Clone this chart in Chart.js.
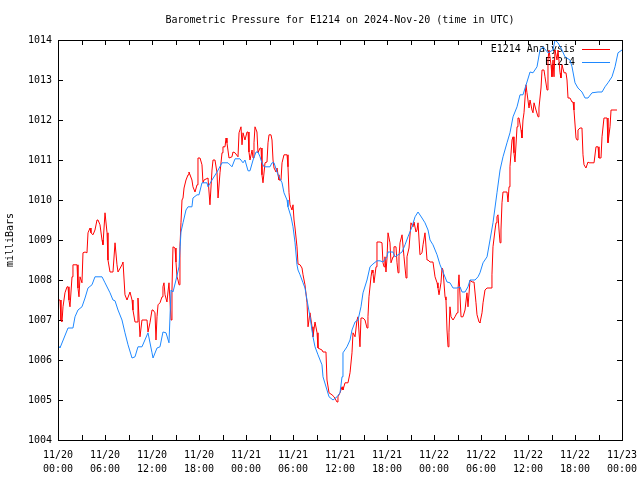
<!DOCTYPE html>
<html>
<head>
<meta charset="utf-8">
<script src="https://cdn.jsdelivr.net/npm/chart.js@4.4.1/dist/chart.umd.min.js"></script>
<style>
  html, body { margin: 0; padding: 0; background: #fff; }
  #wrap { width: 640px; height: 480px; }
</style>
</head>
<body>
<div id="wrap"><canvas id="myChart" width="640" height="480"></canvas></div>
<script>
var titleText = "Barometric Pressure for E1214 on 2024-Nov-20 (time in UTC)";
var yTitle = "milliBars";
var seriesNames = ["E1214 Analysis", "E1214"];
var seriesColors = ["#ff0000", "#1e88ff"];

// x axis: hours since 11/20 00:00 UTC, labelled every 6 h
var tickDays = ["11/20", "11/20", "11/20", "11/20", "11/21", "11/21", "11/21",
                "11/21", "11/22", "11/22", "11/22", "11/22", "11/23"];
var tickTimes = ["00:00", "06:00", "12:00", "18:00", "00:00", "06:00", "12:00",
                 "18:00", "00:00", "06:00", "12:00", "18:00", "00:00"];

// red: E1214 Analysis
var analysisHours = [
  0.00, 0.26, 0.38, 0.51, 0.64, 0.89, 1.15, 1.28, 1.40, 1.53,
  1.79, 1.91, 2.43, 2.55, 2.68, 2.81, 3.06, 3.19, 3.45, 3.70,
  3.83, 4.09, 4.21, 4.47, 4.72, 4.98, 5.11, 5.36, 5.62, 5.74,
  6.00, 6.26, 6.38, 6.64, 7.02, 7.28, 7.53, 7.66, 8.17, 8.30,
  8.55, 8.81, 9.19, 9.45, 9.57, 9.83, 10.09, 10.21, 10.47, 10.72,
  11.36, 11.49, 11.74, 12.00, 12.13, 12.38, 12.51, 12.64, 12.77, 13.02,
  13.28, 13.40, 13.53, 13.66, 13.91, 14.04, 14.17, 14.43, 14.55, 14.68,
  14.94, 15.06, 15.19, 15.32, 15.45, 15.57, 15.70, 15.83, 15.96, 16.09,
  16.34, 16.60, 16.72, 17.10, 17.23, 17.49, 17.75, 17.87, 18.13, 18.38,
  18.51, 18.64, 19.15, 19.40, 19.66, 19.79, 20.04, 20.30, 20.43, 20.68,
  20.94, 21.06, 21.32, 21.45, 21.57, 21.83, 22.21, 22.34, 22.60, 22.98,
  23.11, 23.36, 23.49, 23.62, 23.87, 24.13, 24.26, 24.38, 24.51, 24.77,
  24.90, 25.02, 25.15, 25.40, 25.53, 25.79, 25.92, 26.04, 26.17, 26.43,
  26.68, 26.81, 26.94, 27.19, 27.32, 27.45, 27.58, 27.83, 27.96, 28.09,
  28.21, 28.47, 28.60, 28.85, 29.24, 29.36, 29.49, 29.62, 29.87, 30.00,
  30.13, 30.26, 30.51, 30.64, 30.90, 31.15, 31.28, 31.53, 31.79, 31.92,
  32.17, 32.43, 32.55, 32.81, 33.07, 33.19, 33.70, 33.83, 34.21, 34.34,
  34.60, 34.98, 35.24, 35.62, 35.74, 36.00, 36.26, 36.38, 36.64, 37.02,
  37.28, 37.53, 37.66, 37.92, 38.17, 38.30, 38.55, 38.68, 38.94, 39.19,
  39.45, 39.57, 39.70, 39.96, 40.09, 40.21, 40.34, 40.60, 40.72, 41.11,
  41.36, 41.49, 41.62, 41.74, 41.87, 42.00, 42.13, 42.38, 42.51, 42.77,
  42.89, 43.15, 43.28, 43.41, 43.53, 43.66, 43.92, 44.04, 44.17, 44.43,
  44.55, 44.81, 45.06, 45.32, 45.45, 45.70, 45.83, 45.96, 46.21, 46.47,
  46.60, 46.85, 47.11, 47.24, 47.49, 47.87, 48.13, 48.39, 48.51, 48.64,
  48.89, 49.02, 49.15, 49.41, 49.53, 49.66, 49.79, 49.91, 50.04, 50.17,
  50.43, 50.68, 50.94, 51.06, 51.19, 51.45, 51.70, 51.96, 52.21, 52.34,
  52.60, 52.85, 53.11, 53.36, 53.49, 53.75, 53.87, 54.13, 54.26, 54.51,
  54.77, 55.28, 55.40, 55.53, 55.79, 55.92, 56.04, 56.17, 56.30, 56.43,
  56.55, 56.68, 56.81, 57.32, 57.45, 57.58, 57.70, 57.96, 58.09, 58.21,
  58.34, 58.60, 58.72, 58.85, 59.11, 59.23, 59.36, 59.49, 59.74, 59.87,
  60.13, 60.26, 60.51, 60.64, 60.77, 61.02, 61.28, 61.40, 61.66, 61.79,
  62.04, 62.17, 62.43, 62.55, 62.68, 62.94, 63.06, 63.19, 63.32, 63.45,
  63.70, 63.83, 64.09, 64.21, 64.34, 64.60, 64.85, 64.98, 65.11, 65.36,
  65.62, 65.75, 65.87, 66.13, 66.26, 66.38, 66.64, 66.89, 67.02, 67.15,
  67.40, 67.66, 67.79, 68.43, 68.68, 68.94, 69.06, 69.32, 69.45, 69.70,
  70.09, 70.21, 70.47, 70.60, 71.36
];
var analysisValues = [
  1007.50, 1007.50, 1007.00, 1006.95, 1007.33, 1007.68, 1007.83, 1007.83, 1007.50, 1007.33,
  1008.08, 1008.38, 1008.38, 1007.80, 1007.58, 1008.08, 1007.93, 1008.68, 1008.70, 1008.68,
  1009.18, 1009.30, 1009.18, 1009.13, 1009.25, 1009.50, 1009.50, 1009.38, 1009.00, 1008.88,
  1009.68, 1009.18, 1008.50, 1008.20, 1008.20, 1008.93, 1008.38, 1008.20, 1008.38, 1008.45,
  1007.63, 1007.50, 1007.70, 1007.50, 1007.25, 1006.95, 1006.95, 1007.55, 1006.58, 1007.00,
  1007.00, 1006.70, 1006.93, 1007.25, 1007.25, 1007.18, 1006.50, 1007.08, 1007.38, 1007.43,
  1007.58, 1007.83, 1007.93, 1007.63, 1007.45, 1007.70, 1007.93, 1007.00, 1007.75, 1008.83,
  1008.80, 1008.45, 1008.08, 1008.00, 1007.88, 1008.83, 1009.43, 1010.00, 1010.05, 1010.30,
  1010.50, 1010.63, 1010.70, 1010.50, 1010.33, 1010.20, 1010.38, 1011.05, 1011.05, 1010.88,
  1010.43, 1010.50, 1010.55, 1009.88, 1010.75, 1011.00, 1011.00, 1010.68, 1010.05, 1010.68,
  1011.18, 1011.33, 1011.33, 1011.55, 1011.43, 1011.05, 1011.08, 1011.20, 1011.18, 1011.08,
  1011.68, 1011.83, 1011.38, 1011.68, 1011.50, 1011.70, 1011.70, 1011.20, 1011.00, 1011.25,
  1011.05, 1011.43, 1011.83, 1011.70, 1011.18, 1011.30, 1011.30, 1010.63, 1010.43, 1010.93,
  1010.95, 1011.43, 1011.63, 1011.63, 1011.50, 1011.00, 1010.80, 1010.70, 1010.80, 1010.63,
  1010.50, 1010.50, 1010.93, 1011.13, 1011.13, 1010.83, 1010.18, 1009.88, 1009.75, 1009.88,
  1009.50, 1009.30, 1008.83, 1008.40, 1008.38, 1008.30, 1008.13, 1007.88, 1007.43, 1006.83,
  1007.18, 1006.83, 1006.58, 1006.95, 1006.68, 1006.30, 1006.25, 1006.20, 1006.20, 1005.50,
  1005.18, 1005.13, 1005.08, 1004.95, 1005.08, 1005.18, 1005.33, 1005.25, 1005.43, 1005.43,
  1005.68, 1006.18, 1006.68, 1006.58, 1007.00, 1007.08, 1006.33, 1007.05, 1007.05, 1007.00,
  1006.80, 1007.08, 1007.58, 1008.08, 1008.25, 1008.18, 1007.93, 1008.33, 1008.95, 1008.95,
  1008.93, 1008.43, 1008.33, 1008.58, 1008.20, 1008.55, 1009.18, 1008.93, 1008.43, 1008.58,
  1008.83, 1008.83, 1008.43, 1008.18, 1008.58, 1008.93, 1009.13, 1009.13, 1008.58, 1008.05,
  1008.58, 1008.80, 1009.43, 1009.33, 1009.45, 1009.20, 1009.25, 1009.43, 1008.63, 1008.68,
  1008.88, 1009.18, 1008.50, 1008.50, 1008.45, 1008.45, 1008.08, 1007.93, 1007.80, 1007.63,
  1007.93, 1008.30, 1008.25, 1007.58, 1007.50, 1006.75, 1006.33, 1006.68, 1007.33, 1007.08,
  1007.00, 1007.08, 1007.18, 1007.75, 1008.13, 1007.08, 1007.08, 1007.25, 1007.68, 1007.33,
  1008.00, 1007.95, 1007.95, 1007.43, 1007.13, 1006.95, 1006.93, 1007.18, 1007.43, 1007.75,
  1007.80, 1007.80, 1008.13, 1008.83, 1009.25, 1009.43, 1009.58, 1009.63, 1009.25, 1008.93,
  1009.25, 1009.93, 1010.20, 1010.20, 1009.95, 1010.33, 1010.83, 1011.50, 1011.58, 1011.18,
  1010.95, 1011.83, 1012.05, 1012.05, 1011.75, 1011.55, 1012.00, 1012.18, 1012.88, 1012.68,
  1012.30, 1012.50, 1012.25, 1012.18, 1012.43, 1012.25, 1012.08, 1012.30, 1012.80, 1013.25,
  1013.25, 1013.08, 1012.75, 1013.50, 1013.75, 1013.38, 1013.08, 1013.50, 1013.08, 1013.75,
  1013.50, 1013.75, 1013.18, 1013.05, 1013.38, 1013.18, 1013.18, 1013.00, 1012.55, 1012.55,
  1012.45, 1012.45, 1012.25, 1011.55, 1011.50, 1011.75, 1011.80, 1011.80, 1011.13, 1010.88,
  1010.80, 1010.95, 1010.93, 1010.93, 1011.33, 1011.33, 1011.05, 1011.05, 1011.58, 1012.05,
  1012.05, 1011.43, 1011.83, 1012.25, 1012.25
];

// blue: E1214 observed
var obsHours = [
  0.00, 0.25, 1.28, 1.91, 2.17, 2.55, 3.06, 3.45, 3.83, 4.34,
  4.72, 5.62, 6.00, 6.64, 7.02, 7.28, 7.66, 8.17, 8.55, 8.94,
  9.45, 9.83, 10.21, 10.72, 11.49, 12.00, 12.13, 12.64, 13.02, 13.40,
  13.79, 14.17, 14.43, 14.68, 15.06, 15.45, 15.70, 15.96, 16.34, 16.60,
  17.10, 17.23, 17.75, 18.00, 18.38, 19.02, 19.15, 19.66, 20.30, 20.94,
  21.70, 22.21, 22.60, 23.23, 23.62, 23.87, 24.26, 24.51, 24.90, 25.28,
  25.53, 25.79, 26.04, 26.30, 27.06, 27.32, 27.58, 27.96, 28.09, 28.60,
  28.85, 29.24, 29.36, 29.75, 30.00, 30.26, 30.51, 30.64, 30.90, 31.28,
  31.53, 31.79, 32.17, 32.55, 32.81, 33.19, 33.70, 33.83, 34.34, 34.60,
  35.11, 35.62, 36.00, 36.26, 36.38, 36.89, 37.28, 37.53, 37.92, 38.30,
  38.68, 38.94, 39.45, 39.83, 40.21, 40.72, 41.11, 41.49, 42.00, 42.13,
  42.77, 43.02, 43.41, 43.92, 44.30, 44.68, 45.19, 45.58, 45.96, 46.47,
  46.85, 47.24, 47.49, 47.87, 48.39, 48.77, 49.15, 49.66, 50.04, 50.43,
  50.94, 51.32, 51.58, 51.96, 52.34, 52.60, 53.24, 53.62, 53.87, 54.26,
  54.77, 55.15, 55.53, 56.04, 56.43, 56.81, 57.32, 57.70, 58.09, 58.60,
  58.98, 59.36, 59.87, 60.26, 60.64, 61.15, 61.53, 61.92, 62.55, 63.19,
  63.45, 63.83, 64.34, 64.72, 65.36, 65.62, 66.00, 66.38, 66.89, 67.28,
  67.66, 68.17, 68.94, 69.45, 69.83, 70.21, 70.72, 71.11, 71.49, 72.00
];
var obsValues = [
  1006.38, 1006.30, 1006.80, 1006.80, 1007.08, 1007.25, 1007.33, 1007.55, 1007.80, 1007.88,
  1008.08, 1008.08, 1007.93, 1007.68, 1007.50, 1007.48, 1007.25, 1007.00, 1006.68, 1006.38,
  1006.05, 1006.08, 1006.33, 1006.33, 1006.68, 1006.18, 1006.05, 1006.30, 1006.33, 1006.70,
  1006.68, 1006.43, 1007.75, 1007.70, 1008.00, 1008.33, 1009.20, 1009.43, 1009.75, 1009.83,
  1009.83, 1010.05, 1010.13, 1010.13, 1010.43, 1010.43, 1010.33, 1010.50, 1010.70, 1010.93,
  1010.93, 1010.83, 1011.03, 1011.03, 1010.93, 1011.00, 1010.73, 1010.73, 1011.00, 1011.20,
  1011.20, 1011.08, 1010.93, 1010.83, 1010.83, 1010.93, 1010.93, 1010.70, 1010.63, 1010.43,
  1010.18, 1010.00, 1009.83, 1009.58, 1009.33, 1008.93, 1008.38, 1008.25, 1008.13, 1007.93,
  1007.80, 1007.50, 1007.08, 1006.58, 1006.33, 1006.13, 1005.88, 1005.58, 1005.25, 1005.08,
  1005.00, 1005.08, 1005.18, 1005.58, 1006.18, 1006.33, 1006.50, 1006.75, 1006.95, 1007.00,
  1007.33, 1007.68, 1008.00, 1008.33, 1008.40, 1008.48, 1008.48, 1008.45, 1008.58, 1008.70,
  1008.70, 1008.58, 1008.63, 1008.70, 1008.88, 1009.08, 1009.33, 1009.58, 1009.70, 1009.55,
  1009.43, 1009.25, 1009.00, 1008.88, 1008.63, 1008.38, 1008.20, 1007.95, 1007.93, 1007.80,
  1007.80, 1007.83, 1007.70, 1007.70, 1007.83, 1008.00, 1008.00, 1008.08, 1008.18, 1008.43,
  1008.58, 1009.00, 1009.43, 1010.18, 1010.75, 1011.08, 1011.43, 1011.68, 1012.08, 1012.33,
  1012.63, 1012.63, 1012.95, 1013.20, 1013.18, 1013.33, 1013.75, 1013.83, 1013.68, 1013.75,
  1014.00, 1013.93, 1013.75, 1013.58, 1013.50, 1013.33, 1012.93, 1012.80, 1012.70, 1012.55,
  1012.55, 1012.68, 1012.70, 1012.70, 1012.83, 1012.93, 1013.08, 1013.33, 1013.68, 1013.75
];

var fontFamily = '"DejaVu Sans Mono", "Liberation Mono", monospace';

function toPoints(xs, ys) {
    var pts = [];
    for (var i = 0; i < xs.length; i++) {
        pts.push({ x: xs[i], y: ys[i] });
    }
    return pts;
}

// gnuplot style frame, inward ticks, key and titles
var framePlugin = {
    id: "frame",
    beforeDatasetsDraw: function (chart) {
        var ctx = chart.ctx;
        var a = chart.chartArea;
        var xs = chart.scales.x;
        var ys = chart.scales.y;
        ctx.save();
        ctx.strokeStyle = "#000";
        ctx.lineWidth = 1;
        ctx.beginPath();
        for (var h = xs.min; h <= xs.max; h += 3) {
            var px = Math.round(xs.getPixelForValue(h)) + 0.5;
            ctx.moveTo(px, a.bottom);
            ctx.lineTo(px, a.bottom - 5);
            ctx.moveTo(px, a.top);
            ctx.lineTo(px, a.top + 5);
        }
        for (var p = ys.min; p <= ys.max; p += 1) {
            var py = Math.round(ys.getPixelForValue(p)) + 0.5;
            ctx.moveTo(a.left, py);
            ctx.lineTo(a.left + 5, py);
            ctx.moveTo(a.right, py);
            ctx.lineTo(a.right - 5, py);
        }
        ctx.stroke();

        // key
        ctx.font = "10px " + fontFamily;
        ctx.fillStyle = "#000";
        ctx.textAlign = "right";
        ctx.textBaseline = "middle";
        for (var i = 0; i < seriesNames.length; i++) {
            var ky = 49.5 + i * 13;
            ctx.fillText(seriesNames[i], 575, ky);
            ctx.strokeStyle = seriesColors[i];
            ctx.beginPath();
            ctx.moveTo(582, ky);
            ctx.lineTo(610, ky);
            ctx.stroke();
        }
        ctx.restore();
    },
    afterDraw: function (chart) {
        var ctx = chart.ctx;
        var a = chart.chartArea;
        ctx.save();
        ctx.strokeStyle = "#000";
        ctx.lineWidth = 1;
        ctx.strokeRect(a.left + 0.5, a.top + 0.5, a.right - a.left, a.bottom - a.top);

        ctx.font = "10px " + fontFamily;
        ctx.fillStyle = "#000";
        ctx.textAlign = "center";
        ctx.textBaseline = "middle";
        ctx.fillText(titleText, (a.left + a.right) / 2, 20);

        ctx.translate(10, (a.top + a.bottom) / 2);
        ctx.rotate(-Math.PI / 2);
        ctx.fillText(yTitle, 0, 0);
        ctx.restore();
    }
};

new Chart("myChart", {
    type: "line",
    data: {
        datasets: [{
            label: seriesNames[1],
            data: toPoints(obsHours, obsValues),
            borderColor: seriesColors[1],
            borderWidth: 1,
            pointRadius: 0,
            tension: 0,
            order: 0
        }, {
            label: seriesNames[0],
            data: toPoints(analysisHours, analysisValues),
            borderColor: seriesColors[0],
            borderWidth: 1,
            pointRadius: 0,
            tension: 0,
            order: 1
        }]
    },
    options: {
        responsive: false,
        animation: false,
        devicePixelRatio: 1,
        layout: { padding: { top: 40, right: 18, left: 0, bottom: 0 } },
        plugins: {
            legend: { display: false },
            title: { display: false },
            tooltip: { enabled: false }
        },
        scales: {
            x: {
                type: "linear",
                min: 0,
                max: 72,
                grid: { display: false, drawTicks: false },
                border: { display: false },
                afterFit: function (s) {
                    s.height = 40;
                    s.paddingLeft = 0;
                    s.paddingRight = 0;
                },
                ticks: {
                    stepSize: 6,
                    autoSkip: false,
                    maxRotation: 0,
                    padding: 8,
                    color: "#000",
                    font: { family: fontFamily, size: 10, lineHeight: 1.4 },
                    callback: function (v) {
                        var i = Math.round(v / 6);
                        return [tickDays[i], tickTimes[i]];
                    }
                }
            },
            y: {
                min: 1004,
                max: 1014,
                grid: { display: false, drawTicks: false },
                border: { display: false },
                afterFit: function (s) {
                    s.width = 58;
                    s.paddingTop = 0;
                    s.paddingBottom = 0;
                },
                ticks: {
                    stepSize: 1,
                    padding: 6,
                    color: "#000",
                    font: { family: fontFamily, size: 10 },
                    callback: function (v) { return String(v); }
                }
            }
        }
    },
    plugins: [framePlugin]
});
</script>
</body>
</html>
